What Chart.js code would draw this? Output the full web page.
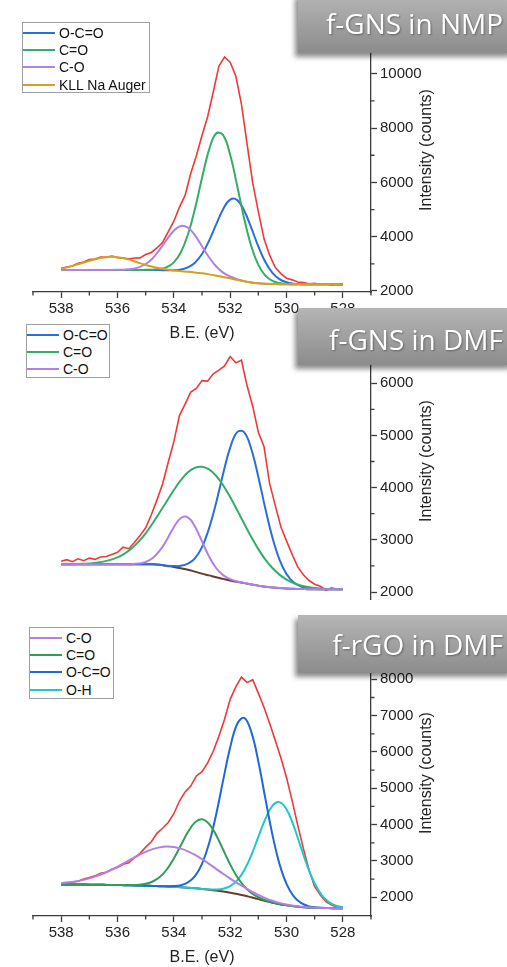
<!DOCTYPE html>
<html>
<head>
<meta charset="utf-8">
<title>O 1s XPS</title>
<script src="https://cdn.jsdelivr.net/npm/chart.js@4.4.1/dist/chart.umd.min.js"></script>
<style>
  body { margin: 0; background: #fff; }
  #page { position: relative; width: 507px; height: 967px; overflow: hidden; background: #fff; font-family: "Liberation Sans", Arial, sans-serif; }
  canvas { position: absolute; left: 0; }
  .legend { position: absolute; border: 1px solid #a0a0a0; background: #fff; box-sizing: border-box; }
  .legend .row { position: absolute; left: 0; height: 18px; line-height: 18px; font-size: 14px; color: #111; white-space: nowrap; }
  .legend .swatch { position: absolute; left: 0; top: 8px; width: 32px; height: 2px; }
  .legend .label { position: absolute; left: 36px; top: 0; }
  .tag { position: absolute; left: 298px; width: 215px; background: linear-gradient(#b5b5b5, #8c8c8c); box-shadow: -3px 4px 5px rgba(0,0,0,.45); }
  .tag span { position: absolute; right: 10px; font-family: "Open Sans", sans-serif; font-size: 28px; line-height: 28px; color: #fff; text-shadow: 1px 1px 2px rgba(0,0,0,.35); white-space: nowrap; }
  .ytitle { position: absolute; font-size: 16px; color: #222; white-space: nowrap; transform: translate(-50%, -50%) rotate(-90deg); }
</style>
</head>
<body>
<div id="page">
  <canvas id="nmp" width="507" height="345" style="top:0"></canvas>
  <canvas id="dmf" width="507" height="312" style="top:300px"></canvas>
  <canvas id="rgo" width="507" height="367" style="top:600px"></canvas>

  <div class="legend" id="legNmp" style="left:22px;top:22px;width:128px;height:71px"></div>
  <div class="legend" id="legDmf" style="left:26px;top:324px;width:84px;height:54px"></div>
  <div class="legend" id="legRgo" style="left:29px;top:627px;width:85px;height:72px"></div>

  <div class="ytitle" style="left:426px;top:150px">Intensity (counts)</div>
  <div class="ytitle" style="left:426px;top:461px">Intensity (counts)</div>
  <div class="ytitle" style="left:426px;top:773px">Intensity (counts)</div>

  <div class="tag" style="top:-6px;height:59px"><span style="top:15px">f-GNS in NMP</span></div>
  <div class="tag" style="top:308px;height:57px"><span style="top:17px">f-GNS in DMF</span></div>
  <div class="tag" style="top:615px;height:58px"><span style="top:15px">f-rGO in DMF</span></div>
</div>

<script>
// binding energy grids (eV): measured scan and fitted components
const beRaw = [538.0, 537.8, 537.6, 537.4, 537.2, 537.0, 536.8, 536.6, 536.4, 536.2, 536.0,
  535.8, 535.6, 535.4, 535.2, 535.0, 534.8, 534.6, 534.4, 534.2, 534.0,
  533.8, 533.6, 533.4, 533.2, 533.0, 532.8, 532.6, 532.4, 532.2, 532.0,
  531.8, 531.6, 531.4, 531.2, 531.0, 530.8, 530.6, 530.4, 530.2, 530.0,
  529.8, 529.6, 529.4, 529.2, 529.0, 528.8, 528.6, 528.4, 528.2, 528.0];
const beFit = [538, 537.75, 537.5, 537.25, 537, 536.75, 536.5, 536.25, 536, 535.75,
  535.5, 535.25, 535, 534.75, 534.5, 534.25, 534, 533.75, 533.5, 533.25,
  533, 532.75, 532.5, 532.25, 532, 531.75, 531.5, 531.25, 531, 530.75,
  530.5, 530.25, 530, 529.75, 529.5, 529.25, 529, 528.75, 528.5, 528.25, 528];

const xMajor = [538, 536, 534, 532, 530, 528];
const xMinor = [539, 537, 535, 533, 531, 529, 527];

// f-GNS in NMP
const nmpLabels = ["O-C=O", "C=O", "C-O", "KLL Na Auger"];
const nmpRaw = [2835, 2885, 2920, 3020, 3065, 3160, 3180, 3250, 3245, 3285, 3230,
  3225, 3180, 3215, 3220, 3345, 3420, 3585, 3790, 4180, 4570,
  5090, 5520, 6330, 6980, 7730, 8420, 9330, 10280, 10620, 10430,
  9920, 8880, 7420, 5980, 4920, 3930, 3320, 2870, 2640, 2470,
  2410, 2330, 2310, 2265, 2285, 2240, 2260, 2225, 2245, 2220];
const nmpOCO = [2775, 2775, 2775, 2775, 2775, 2775, 2775, 2775, 2775, 2775,
  2775, 2775, 2775, 2773, 2769, 2764, 2765, 2790, 2868, 3041,
  3360, 3848, 4444, 5013, 5365, 5348, 4956, 4323, 3641, 3067,
  2671, 2438, 2321, 2271, 2252, 2247, 2245, 2245, 2245, 2245, 2245];
const nmpCO2 = [2775, 2775, 2775, 2775, 2775, 2775, 2775, 2775, 2775, 2775,
  2775, 2775, 2778, 2785, 2809, 2878, 3055, 3428, 4079, 5028,
  6159, 7199, 7803, 7740, 7017, 5870, 4654, 3648, 2960, 2565,
  2374, 2291, 2260, 2249, 2245, 2245, 2245, 2245, 2245, 2245, 2245];
const nmpCO = [2775, 2775, 2775, 2775, 2775, 2775, 2775, 2775, 2778, 2786,
  2810, 2869, 2993, 3208, 3525, 3894, 4222, 4393, 4332, 4052,
  3649, 3242, 2910, 2678, 2534, 2434, 2363, 2314, 2282, 2266,
  2258, 2252, 2248, 2246, 2245, 2245, 2245, 2245, 2245, 2245, 2245];
const nmpAuger = [2820, 2880, 2958, 3030, 3110, 3180, 3230, 3260, 3245, 3200,
  3125, 3040, 2960, 2890, 2835, 2790, 2755, 2730, 2712, 2685,
  2651, 2612, 2565, 2515, 2467, 2410, 2356, 2312, 2282, 2266,
  2258, 2252, 2248, 2246, 2245, 2245, 2245, 2245, 2245, 2245, 2245];
const nmpYMajor = [2000, 4000, 6000, 8000, 10000];
const nmpYMinor = [3000, 5000, 7000, 9000, 11000];

// f-GNS in DMF
const dmfLabels = ["O-C=O", "C=O", "C-O"];
const dmfRaw = [2590, 2620, 2580, 2635, 2600, 2650, 2625, 2670, 2680, 2720, 2760,
  2860, 2830, 2950, 3080, 3230, 3480, 3760, 4070, 4480, 4880,
  5380, 5600, 5830, 5900, 6050, 6040, 6180, 6250, 6330, 6510,
  6390, 6440, 5950, 5560, 5060, 4790, 4080, 3660, 3250, 2980,
  2720, 2480, 2330, 2220, 2150, 2110, 2030, 2080, 2050, 2060];
const dmfOCO = [2530, 2530, 2530, 2530, 2530, 2530, 2530, 2530, 2530, 2530,
  2530, 2530, 2530, 2530, 2521, 2505, 2497, 2501, 2543, 2646,
  2860, 3220, 3707, 4267, 4766, 5063, 5058, 4740, 4205, 3595,
  3043, 2622, 2346, 2188, 2109, 2073, 2058, 2054, 2052, 2052, 2052];
const dmfCO2 = [2531, 2532, 2535, 2539, 2547, 2560, 2582, 2615, 2665, 2737,
  2835, 2964, 3125, 3318, 3527, 3740, 3954, 4142, 4295, 4380,
  4399, 4349, 4227, 4046, 3819, 3566, 3307, 3054, 2822, 2621,
  2459, 2333, 2239, 2172, 2126, 2095, 2076, 2065, 2059, 2056, 2054];
const dmfCO = [2530, 2530, 2530, 2530, 2530, 2530, 2530, 2530, 2530, 2530,
  2533, 2544, 2575, 2652, 2791, 3000, 3242, 3417, 3430, 3254,
  2968, 2682, 2460, 2323, 2246, 2202, 2172, 2145, 2122, 2100,
  2086, 2075, 2067, 2061, 2057, 2054, 2052, 2052, 2052, 2052, 2052];
const dmfBase = [2530, 2530, 2530, 2530, 2530, 2530, 2530, 2530, 2530, 2530,
  2530, 2530, 2530, 2530, 2520, 2500, 2480, 2455, 2428, 2390,
  2352, 2318, 2283, 2252, 2222, 2195, 2170, 2145, 2122, 2100,
  2086, 2075, 2067, 2061, 2057, 2054, 2052, 2052, 2052, 2052, 2052];
const dmfYMajor = [2000, 3000, 4000, 5000, 6000];
const dmfYMinor = [2500, 3500, 4500, 5500, 6500];

// f-rGO in DMF
const rgoLabels = ["C-O", "C=O", "O-C=O", "O-H"];
const rgoRaw = [2360, 2330, 2420, 2440, 2500, 2545, 2590, 2660, 2690, 2770, 2820,
  2910, 2950, 3090, 3210, 3380, 3530, 3760, 3900, 4060, 4300,
  4650, 4900, 5060, 5340, 5460, 5700, 6020, 6430, 6900, 7450,
  7790, 8060, 7910, 7990, 7620, 7230, 6790, 6320, 5840, 5300,
  4660, 3980, 3340, 2750, 2290, 2060, 1880, 1790, 1730, 1700];
const rgoCO = [2393, 2412, 2437, 2473, 2521, 2582, 2655, 2741, 2840, 2946,
  3054, 3157, 3250, 3326, 3374, 3395, 3383, 3340, 3266, 3168,
  3049, 2920, 2783, 2647, 2516, 2392, 2278, 2166, 2068, 1979,
  1905, 1846, 1803, 1768, 1743, 1726, 1715, 1708, 1703, 1699, 1698];
const rgoCO2 = [2355, 2354, 2352, 2350, 2348, 2346, 2343, 2340, 2337, 2335,
  2337, 2345, 2371, 2434, 2556, 2765, 3065, 3431, 3795, 4062,
  4150, 4023, 3716, 3311, 2902, 2557, 2300, 2120, 2001, 1918,
  1857, 1812, 1780, 1754, 1735, 1721, 1712, 1706, 1702, 1699, 1698];
const rgoOCO = [2355, 2354, 2352, 2350, 2348, 2346, 2343, 2340, 2337, 2334,
  2330, 2325, 2320, 2314, 2307, 2304, 2308, 2333, 2410, 2583,
  2921, 3480, 4273, 5218, 6125, 6770, 6936, 6553, 5740, 4715,
  3723, 2920, 2367, 2032, 1852, 1765, 1727, 1710, 1703, 1699, 1698];
const rgoOH = [2355, 2354, 2352, 2350, 2348, 2346, 2343, 2340, 2337, 2334,
  2330, 2325, 2320, 2314, 2306, 2298, 2288, 2277, 2264, 2248,
  2231, 2219, 2215, 2235, 2307, 2467, 2747, 3156, 3661, 4159,
  4517, 4620, 4423, 3976, 3400, 2838, 2380, 2062, 1872, 1771, 1726];
const rgoBase = [2355, 2354, 2352, 2350, 2348, 2346, 2343, 2340, 2337, 2334,
  2330, 2325, 2320, 2314, 2306, 2298, 2288, 2277, 2264, 2248,
  2230, 2209, 2185, 2157, 2125, 2090, 2050, 2000, 1950, 1898,
  1850, 1810, 1780, 1754, 1735, 1721, 1712, 1706, 1702, 1699, 1698];
const rgoYMajor = [2000, 3000, 4000, 5000, 6000, 7000, 8000];
const rgoYMinor = [2500, 3500, 4500, 5500, 6500, 7500, 8500];

const AXIS = "#3c3c3c";
const RED = "#f03838";
const BLUE = "#2a6edb";
const GREEN = "#34ad68";
const LILAC = "#b27fe6";
const GOLD = "#d4a020";
const BROWN = "#6b3a2e";
const CYAN = "#1cc8c8";

Chart.defaults.font.family = '"Liberation Sans", Arial, sans-serif';

function pts(xs, ys) {
    return xs.map((x, i) => ({ x, y: ys[i] }));
}

function fitLine(label, ys, color, order) {
    return { label, data: pts(beFit, ys), borderColor: color, borderWidth: 2, pointRadius: 0, tension: 0.4, order };
}

function rawLine(ys) {
    return { label: "raw", data: pts(beRaw, ys), borderColor: RED, borderWidth: 1.6, pointRadius: 0, tension: 0, order: 20 };
}

// short ticks between the labelled ones
const minorTicks = {
    id: "minorTicks",
    afterDraw(chart, args, opts) {
        const { ctx, scales: { x, y } } = chart;
        ctx.save();
        ctx.strokeStyle = AXIS;
        ctx.lineWidth = 1.3;
        ctx.beginPath();
        (opts.x || []).forEach(v => {
            const px = x.getPixelForValue(v);
            ctx.moveTo(px, x.top);
            ctx.lineTo(px, x.top + 3.5);
        });
        (opts.y || []).forEach(v => {
            const py = y.getPixelForValue(v);
            if (py < chart.chartArea.top) return;
            ctx.moveTo(y.left, py);
            ctx.lineTo(y.left + 3.5, py);
        });
        ctx.stroke();
        ctx.restore();
    }
};

function panel(id, o) {
    const asTicks = vals => vals.map(v => ({ value: v }));
    return new Chart(document.getElementById(id), {
        type: "line",
        data: { datasets: o.datasets },
        options: {
            responsive: false,
            animation: false,
            events: [],
            layout: { padding: { left: 33, right: 0, top: o.top, bottom: o.bottom } },
            plugins: {
                legend: { display: false },
                tooltip: { enabled: false },
                minorTicks: { x: o.showX ? xMinor : [], y: o.yMinor }
            },
            scales: {
                x: {
                    type: "linear",
                    reverse: true,
                    min: 527,
                    max: 539,
                    display: o.showX,
                    afterBuildTicks: s => { s.ticks = asTicks(xMajor); },
                    afterFit: s => { s.height = o.xHeight; s.paddingLeft = 0; s.paddingRight = 0; },
                    border: { color: AXIS, width: 1.3 },
                    grid: { drawOnChartArea: false, tickLength: 6, tickColor: AXIS, tickWidth: 1.3 },
                    ticks: { color: "#222", font: { size: 15 }, padding: 2, maxRotation: 0, autoSkip: false, callback: v => String(v) },
                    title: { display: o.showX, text: "B.E. (eV)", color: "#222", font: { size: 16 }, padding: { top: 0, bottom: o.titlePad } }
                },
                y: {
                    type: "linear",
                    position: "right",
                    min: o.yMin,
                    max: o.yMax,
                    afterBuildTicks: s => { s.ticks = asTicks(o.yMajor); },
                    afterFit: s => { s.width = 136; s.paddingTop = 0; s.paddingBottom = 0; },
                    border: { color: AXIS, width: 1.3 },
                    grid: { drawOnChartArea: false, tickLength: 6, tickColor: AXIS, tickWidth: 1.3 },
                    ticks: { color: "#222", font: { size: 15 }, padding: 3, autoSkip: false, callback: v => String(v) }
                }
            }
        },
        plugins: [minorTicks]
    });
}

function buildLegend(id, labels, colors) {
    const box = document.getElementById(id);
    labels.forEach((text, i) => {
        const row = document.createElement("div");
        row.className = "row";
        row.style.top = (0.5 + 17.4 * i) + "px";
        row.innerHTML = `<span class="swatch" style="background:${colors[i]}"></span><span class="label">${text}</span>`;
        box.appendChild(row);
    });
}

panel("nmp", {
    top: 40, bottom: 0, xHeight: 53, titlePad: 2, showX: true,
    yMin: 1963, yMax: 11245, yMajor: nmpYMajor, yMinor: nmpYMinor,
    datasets: [
        rawLine(nmpRaw),
        fitLine(nmpLabels[0], nmpOCO, BLUE, 4),
        fitLine(nmpLabels[1], nmpCO2, GREEN, 3),
        fitLine(nmpLabels[2], nmpCO, LILAC, 2),
        fitLine(nmpLabels[3], nmpAuger, GOLD, 1)
    ]
});

panel("dmf", {
    top: 45, bottom: 13, xHeight: 0, titlePad: 0, showX: false,
    yMin: 1866, yMax: 6732, yMajor: dmfYMajor, yMinor: dmfYMinor,
    datasets: [
        rawLine(dmfRaw),
        fitLine("baseline", dmfBase, BROWN, 6),
        fitLine(dmfLabels[0], dmfOCO, BLUE, 3),
        fitLine(dmfLabels[1], dmfCO2, GREEN, 2),
        fitLine(dmfLabels[2], dmfCO, LILAC, 1)
    ]
});

panel("rgo", {
    top: 50, bottom: 0, xHeight: 51, titlePad: 0, showX: true,
    yMin: 1485, yMax: 8807, yMajor: rgoYMajor, yMinor: rgoYMinor,
    datasets: [
        rawLine(rgoRaw),
        fitLine("baseline", rgoBase, BROWN, 6),
        fitLine(rgoLabels[0], rgoCO, LILAC, 1),
        fitLine(rgoLabels[1], rgoCO2, "#2e9e58", 2),
        fitLine(rgoLabels[2], rgoOCO, "#1f68d8", 3),
        fitLine(rgoLabels[3], rgoOH, CYAN, 4)
    ]
});

buildLegend("legNmp", nmpLabels, [BLUE, GREEN, LILAC, GOLD]);
buildLegend("legDmf", dmfLabels, [BLUE, GREEN, LILAC]);
buildLegend("legRgo", rgoLabels, [LILAC, "#2e9e58", "#1f68d8", CYAN]);
</script>
</body>
</html>
